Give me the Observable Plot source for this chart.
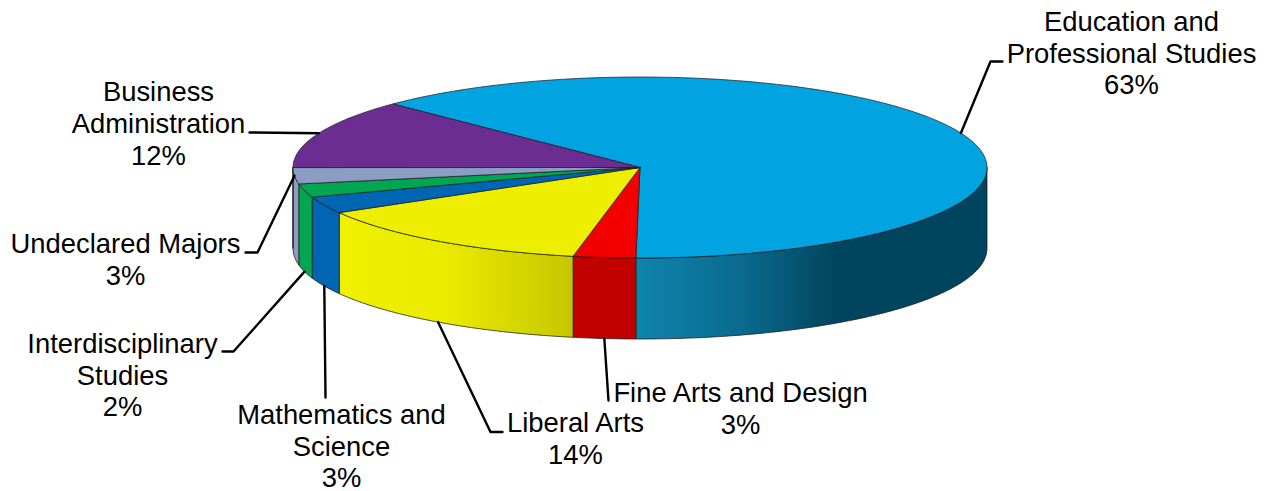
<!DOCTYPE html>
<html>
<head>
<meta charset="utf-8">
<style>html,body{margin:0;padding:0;background:#fff;overflow:hidden}svg{display:block}</style>
<script src="https://cdn.jsdelivr.net/npm/d3@7"></script>
<script src="https://cdn.jsdelivr.net/npm/@observablehq/plot@0.6"></script>
</head>
<body>
<script>
// Data (clockwise from the slice's top-left edge)
const names = ["Education and\nProfessional Studies","Fine Arts and Design","Liberal Arts","Mathematics and\nScience","Interdisciplinary\nStudies","Undeclared Majors","Business\nAdministration"];
const shares = [62.8,2.9,13.6,3.0,2.4,2.9,12.4];

// Colours
const topColors = ["#02a3e1","#f20000","#eeee00","#0066b3","#00a650","#8b9dc3","#6b2d91"];
const sideFills = ["url(#eduSide)","#c10000","url(#yellowSide)","#0066b3","#00a650","#8b9dc3","#6b2d91"];
const eduStops = [[0,"#0f85ae"],[0.3,"#0b6a8e"],[0.57,"#00455f"],[1,"#00455f"]];
const yellowStops = [[0,"#f0f000"],[0.45,"#ebeb00"],[1,"#c6c600"]];

// Pie layout (page pixels)
const cx = 639.5, cy = 167, rx = 347, ry = 90.5, depth = 81, startAngle = 314.6;
// Label layout: centre of the text block, then leader elbow and leader end
const labelX = [1131,740,575,341,122,125,158];
const labelY = [52,407.5,437.5,445,374,258.5,122.5];
const elbowX = [990,608,490,325,233,257,249];
const elbowY = [61,400,431.5,397,351,252,132];
const endX = [1002,608,502,325,222,245,249];
const endY = [61,400,431.5,397,351,252,132];

const rad = d => d * Math.PI / 180;
const pt = (a, dz = 0) => ({x: cx + rx * Math.sin(rad(a)), y: cy - ry * Math.cos(rad(a)) + dz});
const arc = (a0, a1, dz = 0) => d3.range(0, 1.0001, 1 / Math.max(2, Math.ceil(Math.abs(a1 - a0)))).map(t => pt(a0 + (a1 - a0) * t, dz));

let acc = startAngle;
const slices = shares.map((v, i) => {
  const a0 = acc, a1 = acc + v * 3.6; acc = a1;
  return {name: names[i], value: v, a0, a1, mid: (a0 + a1) / 2, i};
});

const marks = [];
// Side walls: only the part facing the viewer (90 deg .. 270 deg, one turn later too)
slices.forEach(s => {
  [0, 360].forEach(turn => {
    const lo = Math.max(s.a0, 90 + turn), hi = Math.min(s.a1, 270 + turn);
    if (hi <= lo) return;
    const poly = [...arc(lo, hi), ...arc(hi, lo, depth)];
    poly.push(poly[0]);
    marks.push(Plot.line(poly, {x: "x", y: "y", fill: sideFills[s.i], stroke: "#1c1c1c", strokeWidth: 0.9, strokeOpacity: 0.85, strokeLinejoin: "round"}));
  });
});
// Top faces
slices.forEach(s => {
  const poly = [{x: cx, y: cy}, ...arc(s.a0, s.a1), {x: cx, y: cy}];
  marks.push(Plot.line(poly, {x: "x", y: "y", fill: topColors[s.i], stroke: "#1c1c1c", strokeWidth: 0.9, strokeOpacity: 0.8, strokeLinejoin: "round"}));
});
// Leaders start at the slice's mid angle on the visible rim
slices.forEach(s => {
  const m = ((s.mid % 360) + 360) % 360;
  const onBottom = m > 90 && m < 260;
  const p = pt(m, onBottom ? depth : 0);
  const e = {x: elbowX[s.i], y: elbowY[s.i]}, f = {x: endX[s.i], y: endY[s.i]};
  marks.push(Plot.line([p, e, f], {x: "x", y: "y", stroke: "#000", strokeWidth: 2.4, strokeLinejoin: "round"}));
});
// Labels
marks.push(Plot.text(slices, {
  x: s => labelX[s.i], y: s => labelY[s.i],
  text: s => `${s.name}\n${Math.round(s.value)}%`,
  fill: "#000", fontSize: 27.4, lineHeight: 1.16, textAnchor: "middle", lineAnchor: "middle"
}));

const chart = Plot.plot({
  width: 1268, height: 491, margin: 0,
  x: {domain: [0, 1268], range: [0, 1268], axis: null},
  y: {domain: [0, 491], range: [0, 491], axis: null},
  style: {fontFamily: "'Liberation Sans', Arial, sans-serif", background: "#fff"},
  marks
});

const defs = d3.select(chart).insert("defs", ":first-child");
[["eduSide", eduStops], ["yellowSide", yellowStops]].forEach(([id, stops]) => {
  const g = defs.append("linearGradient").attr("id", id).attr("x1", 0).attr("x2", 1).attr("y1", 0).attr("y2", 0);
  stops.forEach(([o, c]) => g.append("stop").attr("offset", o).attr("stop-color", c));
});
document.body.appendChild(chart);
</script>
</body>
</html>
